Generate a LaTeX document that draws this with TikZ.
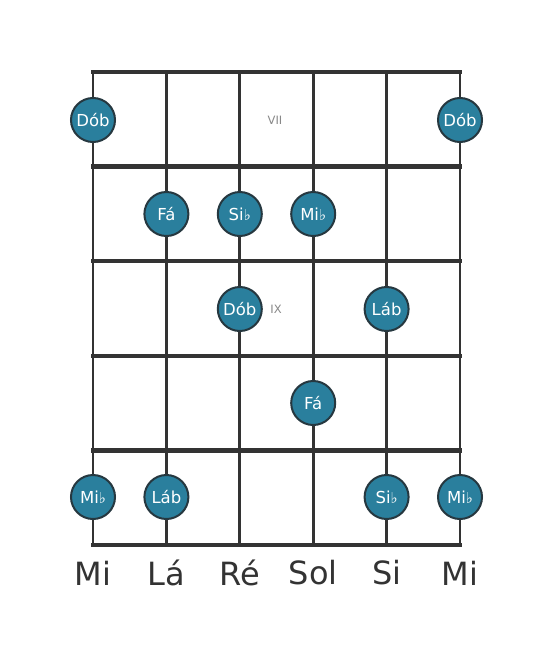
\documentclass[tikz,border=0pt]{standalone}
\usepackage{fontspec}
\setmainfont{DejaVu Sans}
\definecolor{notefill}{HTML}{2A7F9D}
\definecolor{notedraw}{HTML}{263840}
\definecolor{gridcol}{HTML}{333333}
\definecolor{fretnum}{HTML}{888888}
\tikzset{
  note/.style={circle,fill=notefill,draw=notedraw,line width=2pt,minimum size=44pt,inner sep=0pt,text=white,font=\fontsize{16.5}{16.5}\selectfont},
  fretline/.style={gridcol,line width=4.5pt},
  stringline/.style={gridcol,line width=2.8pt},
  fretlabel/.style={text=fretnum,font=\fontsize{11.5}{11.5}\selectfont},
  stringname/.style={text=gridcol,font=\fontsize{32}{32}\selectfont}
}
\newcommand{\fl}{{\fontsize{15}{15}\selectfont ♭}}
\begin{document}
\begin{tikzpicture}[x=1pt,y=-1pt]
\useasboundingbox (0,0) rectangle (553,656);
\fill[white] (0,0) rectangle (553,656);
% strings
\foreach \x in {93,166.4,239.8,313.2,386.6,460}
  \draw[stringline] (\x,72) -- (\x,545);
% frets
\foreach \y in {72,166.6,261.2,355.8,450.4,545}
  \draw[fretline] (91,\y) -- (462,\y);
% fret numbers
\node[fretlabel] (f7) at (275,120) {VII};
\node[fretlabel] (f9) at (276,309) {IX};
% notes
\node[note] (n1) at (93,120) {Dób};
\node[note] (n2) at (460,120) {Dób};
\node[note] (n3) at (166.4,214) {Fá};
\node[note] (n4) at (239.8,214) {Si\fl};
\node[note] (n5) at (313.2,214) {Mi\fl};
\node[note] (n6) at (239.8,309) {Dób};
\node[note] (n7) at (386.6,309) {Láb};
\node[note] (n8) at (313.2,403) {Fá};
\node[note] (n9) at (93,497) {Mi\fl};
\node[note] (n10) at (166.4,497) {Láb};
\node[note] (n11) at (386.6,497) {Si\fl};
\node[note] (n12) at (460,497) {Mi\fl};
% string names
\node[stringname] (s1) at (93,573) {Mi};
\node[stringname] (s2) at (166.4,573) {Lá};
\node[stringname] (s3) at (239.8,573) {Ré};
\node[stringname] (s4) at (313.2,573) {Sol};
\node[stringname] (s5) at (386.6,573) {Si};
\node[stringname] (s6) at (460,573) {Mi};
\end{tikzpicture}
\end{document}
